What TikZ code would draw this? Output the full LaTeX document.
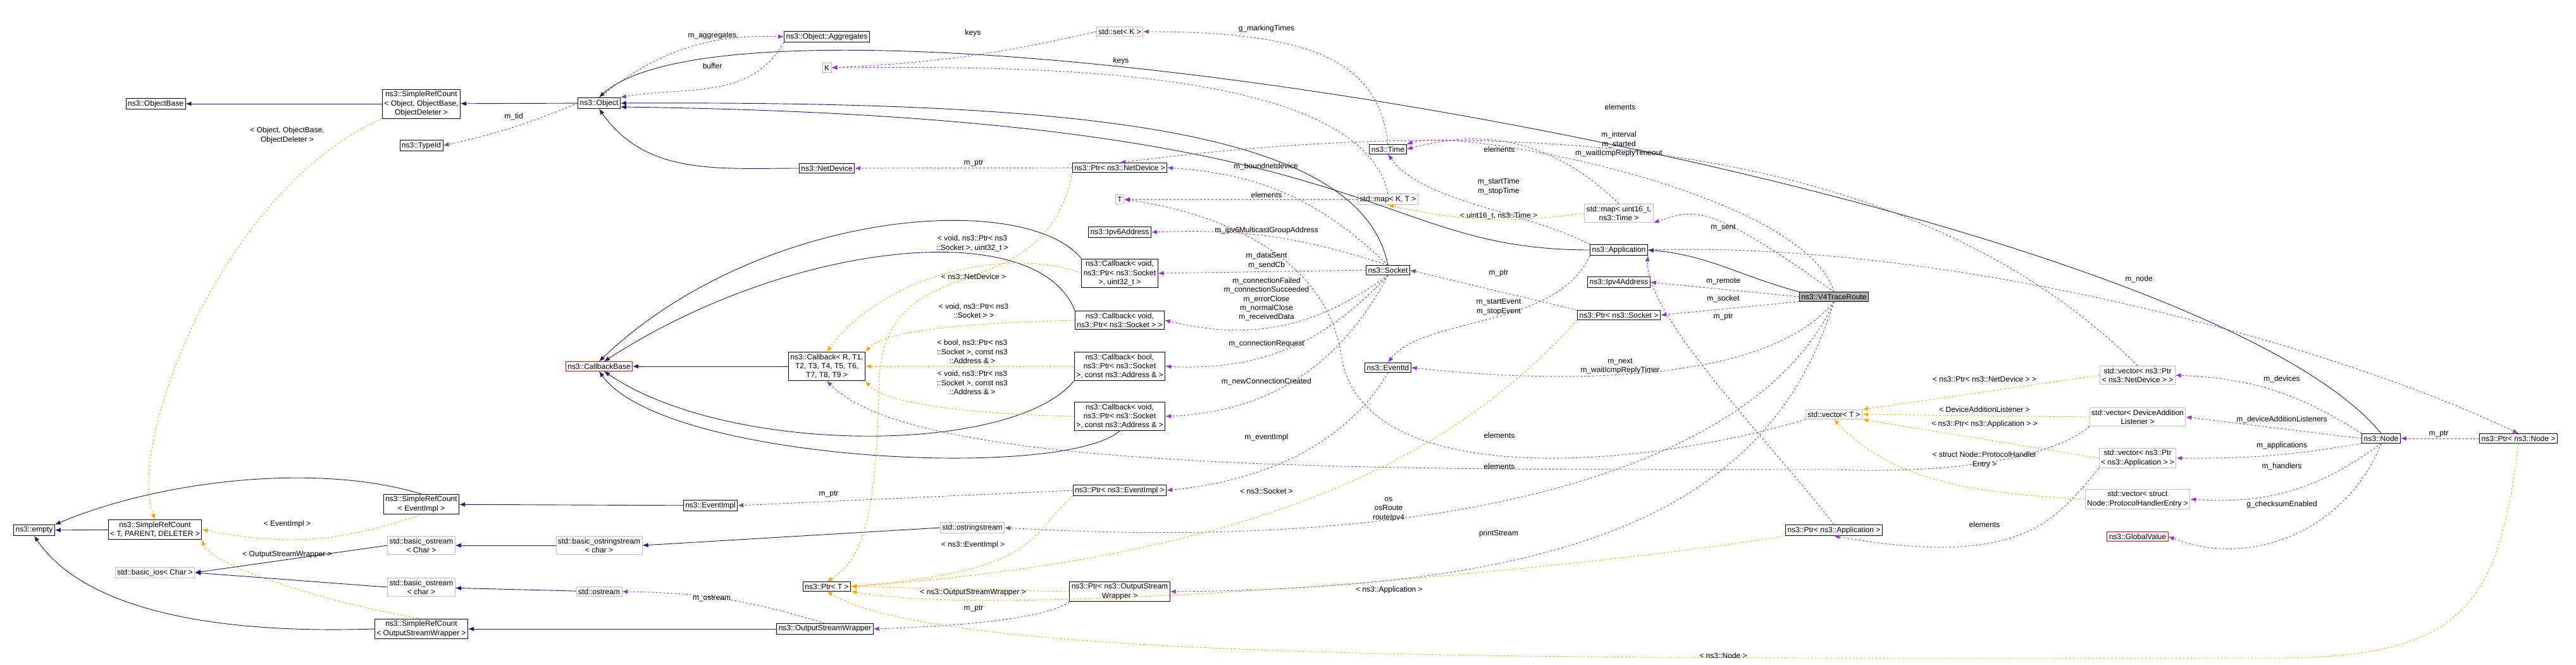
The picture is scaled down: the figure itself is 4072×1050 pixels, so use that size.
\documentclass[tikz,border=0pt]{standalone}
\usepackage{fontspec}
\setmainfont{Liberation Sans}
\usetikzlibrary{arrows.meta, positioning}

\definecolor{navy}{RGB}{25,25,112}
\definecolor{usecol}{RGB}{153,50,204}
\definecolor{tplcol}{RGB}{255,165,0}

\tikzset{
  box/.style={draw, fill=white, align=center, inner sep=3pt, line width=0.9pt,
    font=\fontsize{12}{14.4}\selectfont},
  ext/.style={box, draw=black!25},
  undoc/.style={box, draw=red},
  cur/.style={box, fill=black!30},
  lbl/.style={align=center, font=\fontsize{12}{14.4}\selectfont},
  inh/.style={draw=navy, line width=0.9pt, -{Latex[length=9pt,width=7pt]}},
  use/.style={draw=usecol, dashed, line width=0.9pt, -{Latex[length=9pt,width=7pt]}},
  tpl/.style={draw=tplcol, dashed, line width=0.9pt, -{Latex[length=9pt,width=7pt]}},
}

\begin{document}
\begin{tikzpicture}[x=1pt, y=-1pt]
  \useasboundingbox (0,0) rectangle (4072,1050);

  % classes
  \node[box] (objbase) at (246,164) {ns3::ObjectBase};
  \node[box] (srcobj) at (666,164) {ns3::SimpleRefCount\\< Object, ObjectBase,\\ObjectDeleter >};
  \node[box] (object) at (947,163) {ns3::Object};
  \node[box] (aggr) at (1307,58) {ns3::Object::Aggregates};
  \node[ext] (K) at (1307,107) {K};
  \node[box] (typeid) at (666,230) {ns3::TypeId};
  \node[box] (netdev) at (1307,266) {ns3::NetDevice};
  \node[undoc] (cbbase) at (947,579) {ns3::CallbackBase};
  \node[box] (cbR) at (1307,579) {ns3::Callback< R, T1,\\T2, T3, T4, T5, T6,\\T7, T8, T9 >};
  \node[box] (srcev) at (666,797) {ns3::SimpleRefCount\\< EventImpl >};
  \node[box] (evimpl) at (1123,799) {ns3::EventImpl};
  \node[box] (empty) at (54,838) {ns3::empty};
  \node[box] (srctpd) at (245,837) {ns3::SimpleRefCount\\< T, PARENT, DELETER >};
  \node[ext] (bosC) at (666,862) {std::basic\_ostream\\< Char >};
  \node[ext] (bostr) at (947,862) {std::basic\_ostringstream\\< char >};
  \node[ext] (bios) at (245,905) {std::basic\_ios< Char >};
  \node[ext] (bosc) at (666,928) {std::basic\_ostream\\< char >};
  \node[ext] (ostream) at (947,935) {std::ostream};
  \node[box] (ptrT) at (1307,927) {ns3::Ptr< T >};
  \node[box] (srcosw) at (666,994) {ns3::SimpleRefCount\\< OutputStreamWrapper >};
  \node[box] (osw) at (1304,994) {ns3::OutputStreamWrapper};

  \node[ext] (setK) at (1770,50) {std::set< K >};
  \node[box] (ptrnd) at (1770,265) {ns3::Ptr< ns3::NetDevice >};
  \node[ext] (T) at (1770,315) {T};
  \node[box] (ipv6) at (1770,367) {ns3::Ipv6Address};
  \node[box] (cbu) at (1770,432) {ns3::Callback< void,\\ns3::Ptr< ns3::Socket\\>, uint32\_t >};
  \node[box] (cbs) at (1770,506) {ns3::Callback< void,\\ns3::Ptr< ns3::Socket > >};
  \node[box] (cbb) at (1770,579) {ns3::Callback< bool,\\ns3::Ptr< ns3::Socket\\>, const ns3::Address \& >};
  \node[box] (cba) at (1770,658) {ns3::Callback< void,\\ns3::Ptr< ns3::Socket\\>, const ns3::Address \& >};
  \node[box] (ptrev) at (1770,775) {ns3::Ptr< ns3::EventImpl >};
  \node[ext] (ostrstr) at (1537,834) {std::ostringstream};
  \node[box] (ptrosw) at (1770,935) {ns3::Ptr< ns3::OutputStream\\Wrapper >};

  \node[box] (time) at (2194,236) {ns3::Time};
  \node[ext] (mapKT) at (2194,315) {std::map< K, T >};
  \node[box] (socket) at (2194,427) {ns3::Socket};
  \node[box] (eventid) at (2194,581) {ns3::EventId};
  \node[ext] (mapt) at (2559,337) {std::map< uint16\_t,\\ns3::Time >};
  \node[box] (app) at (2559,395) {ns3::Application};
  \node[box] (ipv4) at (2559,446) {ns3::Ipv4Address};
  \node[box] (ptrsock) at (2559,498) {ns3::Ptr< ns3::Socket >};

  \node[cur] (v4) at (2899,469) {ns3::V4TraceRoute};
  \node[ext] (vecT) at (2899,655) {std::vector< T >};
  \node[box] (ptrapp) at (2899,838) {ns3::Ptr< ns3::Application >};
  \node[ext] (vecnd) at (3379,593) {std::vector< ns3::Ptr\\< ns3::NetDevice > >};
  \node[ext] (vecdal) at (3379,659) {std::vector< DeviceAddition\\Listener >};
  \node[ext] (vecapp) at (3379,724) {std::vector< ns3::Ptr\\< ns3::Application > >};
  \node[ext] (vecph) at (3379,789) {std::vector< struct\\Node::ProtocolHandlerEntry >};
  \node[undoc] (gval) at (3379,848) {ns3::GlobalValue};
  \node[box] (node) at (3764,693) {ns3::Node};
  \node[box] (ptrnode) at (3981,693) {ns3::Ptr< ns3::Node >};

  % inheritance
  \draw[inh] (srcobj) -- (objbase);
  \draw[inh] (object) -- (srcobj);
  \draw[inh] (netdev.west) to[out=180,in=-55] (object.south);
  \draw[inh] (socket.north) .. controls (2150,200) and (1700,160) .. (object.east);
  \draw[inh] (app.west) .. controls (2150,395) and (2200,185) .. ([yshift=-6pt]object.east);
  \draw[inh] (node.north) .. controls (3450,300) and (1200,-80) .. (object.north);
  \draw[inh] (v4.north west) to[out=165,in=-5] (app.east);
  \draw[inh] (cbR) -- (cbbase);
  \draw[inh] (cbu.north west) .. controls (1620,300) and (1200,330) .. (cbbase.north);
  \draw[inh] (cbs.north west) .. controls (1640,340) and (1250,380) .. ([xshift=8pt]cbbase.north);
  \draw[inh] (cbb.south west) .. controls (1600,720) and (1150,720) .. ([xshift=8pt]cbbase.south);
  \draw[inh] (cba.south) .. controls (1680,760) and (1050,730) .. (cbbase.south);
  \draw[inh] (srcev.north) .. controls (500,730) and (250,760) .. (empty.north east);
  \draw[inh] (srctpd) -- (empty);
  \draw[inh] (srcosw.west) .. controls (250,1005) and (110,930) .. (empty.south);
  \draw[inh] (evimpl) -- (srcev);
  \draw[inh] (bosC.west) -- (bios.east);
  \draw[inh] (bosc.west) -- (bios.east);
  \draw[inh] (bostr) -- (bosC);
  \draw[inh] (ostream) -- (bosc);
  \draw[inh] (ostrstr.west) -- (bostr.east);
  \draw[inh] (osw) -- (srcosw);

  % usage
  \draw[use] (object.north) to[bend left=20] (aggr.west);
  \draw[use] (aggr.south west) to[out=-120,in=10] (object.north east);
  \draw[use] (object.west) to[bend left=5] (typeid.east);
  \draw[use] (setK.west) to[bend left=5] (K.east);
  \draw[use] (mapKT.north) .. controls (2150,100) and (1600,105) .. (K.east);
  \draw[use] (time.north) .. controls (2180,100) and (2080,50) .. (setK.east);
  \draw[use] (ptrnd) -- (netdev);
  \draw[use] (vecnd.north) .. controls (3100,300) and (2600,150) .. (ptrnd.north);
  \draw[use] (socket.north) to[bend right=20] (ptrnd.east);
  \draw[use] (mapKT) -- (T);
  \draw[use] (mapt.north) to[bend right=30] (time.east);
  \draw[use] (v4.north) .. controls (2850,300) and (2300,200) .. (time.north east);
  \draw[use] (app.north west) .. controls (2400,330) and (2250,320) .. (time.south);
  \draw[use] (socket.north) to[bend right=10] (ipv6.east);
  \draw[use] (socket.west) -- (cbu.east);
  \draw[use] (socket.south) to[bend left=25] (cbs.east);
  \draw[use] (socket.south) to[bend left=25] (cbb.east);
  \draw[use] (socket.south) to[bend left=30] (cba.east);
  \draw[use] (ptrsock.north west) -- (socket.east);
  \draw[use] (v4.west) -- (ipv4.east);
  \draw[use] (v4.south west) -- (ptrsock.east);
  \draw[use] (v4.north) .. controls (2700,320) and (2680,330) .. (mapt.south east);
  \draw[use] (app.south west) .. controls (2460,520) and (2250,500) .. (eventid.north);
  \draw[use] (v4.south) .. controls (2800,600) and (2500,610) .. (eventid.east);
  \draw[use] (eventid.south) .. controls (2130,700) and (2000,760) .. (ptrev.east);
  \draw[use] (ptrev.west) -- (evimpl.east);
  \draw[use] (vecT.south west) .. controls (2600,740) and (2150,780) .. (2120,560) .. controls (2090,380) and (1880,330) .. (T.east);
  \draw[use] (vecdal.south west) .. controls (3250,720) and (3100,750) .. (2900,742) .. controls (2200,742) and (1450,750) .. (cbR.south);
  \draw[use] (v4.south) .. controls (2800,700) and (2400,880) .. (ostrstr.east);
  \draw[use] (v4.south) .. controls (2800,800) and (2500,930) .. (ptrosw.east);
  \draw[use] (ptrosw.south west) .. controls (1650,980) and (1500,990) .. (osw.east);
  \draw[use] (osw.north) to[bend right=8] (ostream.east);
  \draw[use] (app.east) .. controls (3100,380) and (3700,550) .. (ptrnode.north);
  \draw[use] (ptrapp.north) .. controls (2800,700) and (2600,500) .. (app.south east);
  \draw[use] (vecapp.south west) .. controls (3250,820) and (3200,900) .. (ptrapp.south);
  \draw[use] (node.north west) to[bend right=15] (vecnd.east);
  \draw[use] (node.west) -- (vecdal.east);
  \draw[use] (node.south west) to[bend left=5] (vecapp.east);
  \draw[use] (node.south) to[bend left=20] (vecph.east);
  \draw[use] (node.south) to[bend left=45] (gval.east);
  \draw[use] (ptrnode) -- (node);

  % templates
  \draw[tpl] (srcobj.south west) .. controls (350,300) and (200,700) .. (srctpd.north);
  \draw[tpl] (srcev.south) to[bend left=15] (srctpd.east);
  \draw[tpl] (srcosw.north) .. controls (500,950) and (330,890) .. (srctpd.south east);
  \draw[tpl] (cbu.west) .. controls (1600,390) and (1400,430) .. (cbR.north);
  \draw[tpl] (cbs.west) .. controls (1550,510) and (1400,520) .. (cbR.north east);
  \draw[tpl] (cbb.west) -- (cbR.east);
  \draw[tpl] (cba.west) .. controls (1550,655) and (1400,640) .. (cbR.south east);
  \draw[tpl] (ptrnd.south west) .. controls (1650,500) and (1400,380) .. (1390,600) .. controls (1385,800) and (1370,880) .. (ptrT.north);
  \draw[tpl] (ptrev.south west) .. controls (1620,850) and (1650,900) .. (ptrT.east);
  \draw[tpl] (ptrsock.south west) .. controls (2300,720) and (2000,880) .. (ptrT.east);
  \draw[tpl] (ptrosw.west) -- (ptrT.east);
  \draw[tpl] (ptrapp.south west) .. controls (2500,900) and (1600,980) .. (ptrT.south east);
  \draw[tpl] (ptrnode.south) .. controls (3950,950) and (3900,1040) .. (3600,1040) .. controls (2500,1040) and (1500,1050) .. (ptrT.south);
  \draw[tpl] (mapt.west) to[bend left=10] (mapKT.south);
  \draw[tpl] (vecnd.west) -- (vecT.north east);
  \draw[tpl] (vecdal.west) -- (vecT.east);
  \draw[tpl] (vecapp.west) -- (vecT.south east);
  \draw[tpl] (vecph.west) .. controls (3150,780) and (3000,770) .. (vecT.south);

  % labels
  \foreach \x/\y/\t in {
    1126/57/m\_aggregates, 1126/104/buffer, 812/184/m\_tid,
    454/214/{< Object, ObjectBase,\\ObjectDeleter >}, 454/828/< EventImpl >,
    454/877/< OutputStreamWrapper >, 1310/781/m\_ptr, 1125/946/m\_ostream,
    1538/52/keys, 1772/96/keys, 2002/45/g\_markingTimes, 2561/169/elements,
    2559/228/{m\_interval\\m\_started\\m\_waitIcmpReplyTimeout},
    1539/258/m\_ptr, 2001/263/m\_boundnetdevice, 2370/236/elements,
    2369/295/{m\_startTime\\m\_stopTime}, 2002/308/elements,
    2369/341/{< uint16\_t, ns3::Time >}, 2002/364/m\_ipv6MulticastGroupAddress,
    1537/385/{< void, ns3::Ptr< ns3\\::Socket >, uint32\_t >},
    2002/412/{m\_dataSent\\m\_sendCb}, 2369/432/m\_ptr, 1539/437/< ns3::NetDevice >,
    2002/473/{m\_connectionFailed\\m\_connectionSucceeded\\m\_errorClose\\m\_normalClose\\m\_receivedData},
    2369/485/{m\_startEvent\\m\_stopEvent}, 1539/491/{< void, ns3::Ptr< ns3\\::Socket > >},
    2002/543/m\_connectionRequest,
    1537/556/{< bool, ns3::Ptr< ns3\\::Socket >, const ns3\\::Address \& >},
    2561/579/{m\_next\\m\_waitIcmpReplyTimer},
    1537/605/{< void, ns3::Ptr< ns3\\::Socket >, const ns3\\::Address \& >},
    2002/603/m\_newConnectionCreated, 2370/688/elements, 2002/691/m\_eventImpl,
    2370/737/elements, 2002/776/< ns3::Socket >, 2195/805/{os\\osRoute\\routeIpv4},
    2369/843/printStream, 1538/861/< ns3::EventImpl >,
    1538/937/< ns3::OutputStreamWrapper >, 2196/932/< ns3::Application >, 1539/962/m\_ptr,
    2724/360/m\_sent, 2724/445/m\_remote, 2724/472/m\_socket, 2724/501/m\_ptr,
    3381/441/m\_node, 3137/599/{< ns3::Ptr< ns3::NetDevice > >}, 3607/599/m\_devices,
    3137/647/< DeviceAdditionListener >, 3607/663/m\_deviceAdditionListeners,
    3137/670/{< ns3::Ptr< ns3::Application > >}, 3855/686/m\_ptr,
    3607/704/m\_applications, 3137/727/{< struct Node::ProtocolHandler\\Entry >},
    3607/737/m\_handlers, 3607/797/g\_checksumEnabled, 3137/829/elements,
    2724/1036/< ns3::Node >}
    \node[lbl] at (\x,\y) {\t};
\end{tikzpicture}
\end{document}
